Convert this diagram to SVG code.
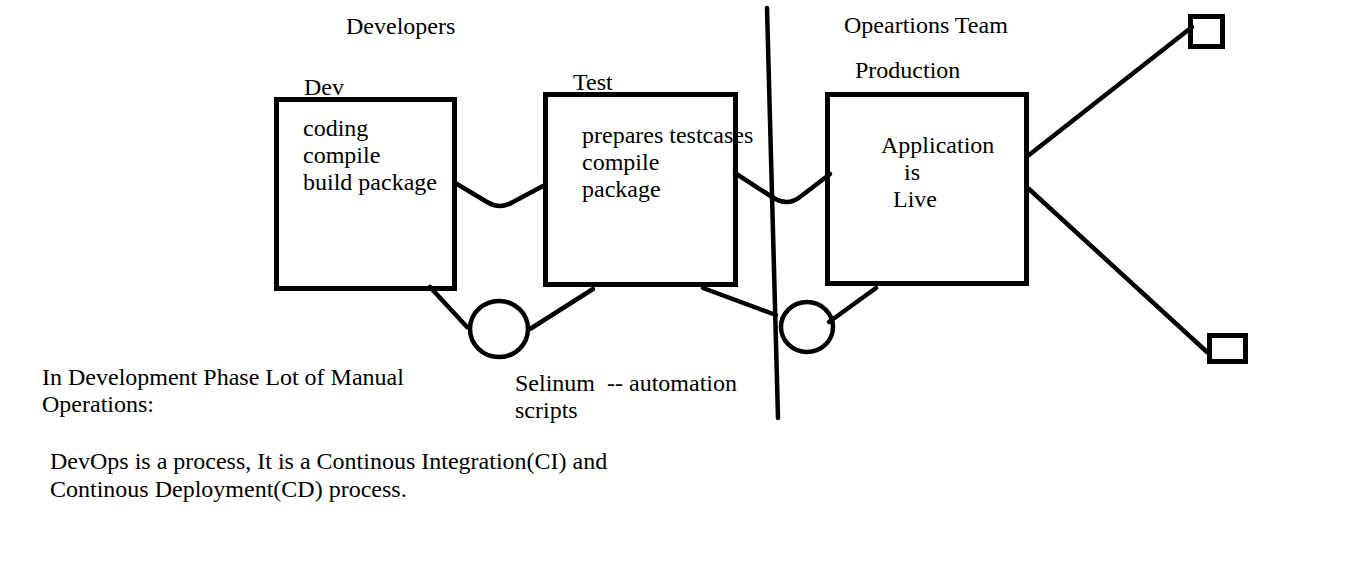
<svg xmlns="http://www.w3.org/2000/svg" width="1359" height="582" viewBox="0 0 1359 582">
<style>
text{font-family:"Liberation Serif","Times New Roman",serif;font-size:24px;fill:#000;white-space:pre}
.box{fill:none;stroke:#000;stroke-width:5}
.ln{fill:none;stroke:#000;stroke-width:4.5;stroke-linecap:round;stroke-linejoin:round}
</style>
<rect width="1359" height="582" fill="#fff"/>
<g id="labels">
<text x="346" y="34">Developers</text>
<text x="844" y="33">Opeartions Team</text>
<text x="42" y="385">In Development Phase Lot of Manual</text>
<text x="42" y="412">Operations:</text>
<text x="50" y="469">DevOps is a process, It is a Continous Integration(CI) and</text>
<text x="50" y="497">Continous Deployment(CD) process.</text>
<text x="515" y="391">Selinum  -- automation</text>
<text x="515" y="418">scripts</text>
</g>
<g id="dev">
<text x="304" y="95">Dev</text>
<rect class="box" x="276.5" y="99.5" width="178" height="189"/>
<text x="303" y="136">coding</text>
<text x="303" y="163">compile</text>
<text x="303" y="190">build package</text>
</g>
<g id="test">
<text x="573" y="90">Test</text>
<rect class="box" x="545.5" y="94.5" width="190" height="190"/>
<text x="582" y="143">prepares testcases</text>
<text x="582" y="170">compile</text>
<text x="582" y="197">package</text>
</g>
<g id="production">
<text x="855" y="78">Production</text>
<rect class="box" x="827.5" y="94.5" width="199" height="189"/>
<text x="881" y="153">Application</text>
<text x="904" y="180">is</text>
<text x="893" y="207">Live</text>
</g>
<g id="target1"><rect class="box" x="1190.5" y="16.5" width="32" height="30"/></g>
<g id="target2"><rect class="box" x="1209.5" y="335.5" width="36" height="26"/></g>
<g id="selenium1"><ellipse class="ln" cx="499" cy="329" rx="29" ry="28"/></g>
<g id="selenium2"><ellipse class="ln" cx="807" cy="327" rx="26" ry="25"/></g>
<g id="connectors">
<path class="ln" d="M767 8 L778 418"/>
<path class="ln" d="M457 184 L487 202 Q500 210 513 202 L543 186"/>
<path class="ln" d="M735 173 L772 197 Q787 207 800 197 L830 174"/>
<path class="ln" d="M430 287 L467 327"/>
<path class="ln" d="M530 329 L593 289"/>
<path class="ln" d="M703 288 L776 315"/>
<path class="ln" d="M829 322 L876 288"/>
<path class="ln" d="M1029 155 L1192 27"/>
<path class="ln" d="M1029 189 L1207 352"/>
</g>
</svg>
